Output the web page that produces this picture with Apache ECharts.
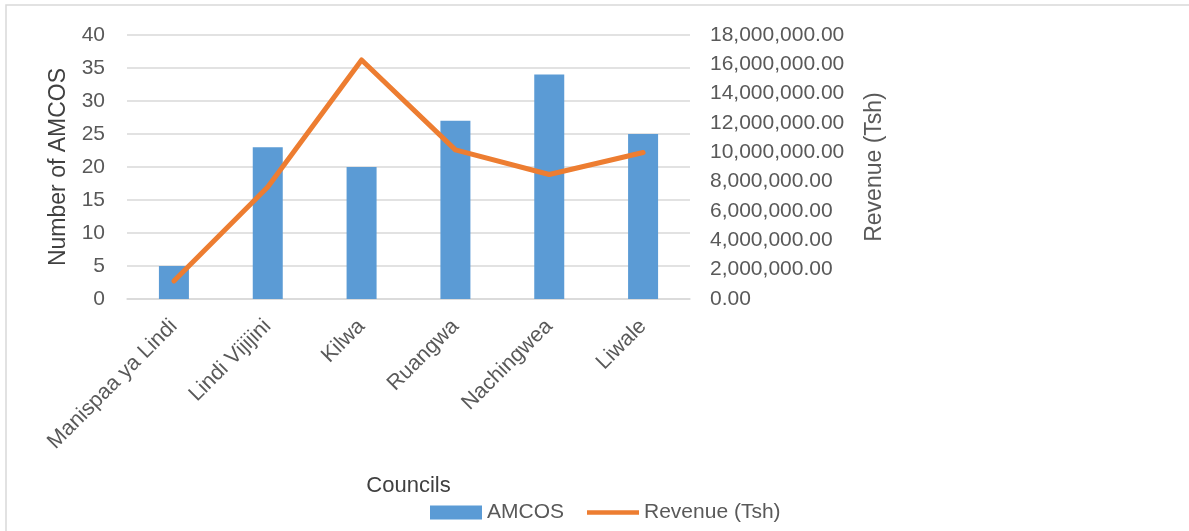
<!DOCTYPE html>
<html>
<head>
<meta charset="utf-8">
<script src="https://cdn.jsdelivr.net/npm/echarts@6/dist/echarts.min.js"></script>
<style>
  html, body { margin: 0; padding: 0; background: #fff; }
  #chart { width: 1189px; height: 531px; }
</style>
</head>
<body>
<div id="chart"></div>
<script>
// councils on the x axis
var councils = ['Manispaa ya Lindi', 'Lindi Vijijini', 'Kilwa', 'Ruangwa', 'Nachingwea', 'Liwale']
// number of AMCOS (left axis)
var amcos = [5, 23, 20, 27, 34, 25]
// revenue in Tsh (right axis)
var revenue = [1230000, 7630000, 16300000, 10170000, 8490000, 9990000]

var textColor = '#595959'
var fontFamily = 'Liberation Sans, Arial, sans-serif'

function money(v) {
  var s = Math.round(v).toString().replace(/\B(?=(\d{3})+(?!\d))/g, ',')
  return s + '.00'
}

var chart = echarts.init(document.getElementById('chart'))

var option = {
  backgroundColor: '#fff',
  animation: false,
  textStyle: { fontFamily: fontFamily, color: textColor },
  graphic: [{
    type: 'rect',
    shape: { x: 6, y: 5, width: 1300, height: 700 },
    style: { fill: 'none', stroke: '#D9D9D9', lineWidth: 1.5 },
    silent: true
  }],
  grid: { left: 127, right: 499, top: 35, bottom: 232 },
  legend: {
    left: 425,
    top: 497,
    itemGap: 23,
    itemWidth: 52,
    itemHeight: 14,
    textStyle: { fontSize: 21, color: textColor, fontFamily: fontFamily },
    data: [
      { name: 'AMCOS', icon: 'rect' },
      { name: 'Revenue (Tsh)', icon: 'path://M0,5 L58,5 L58,10 L0,10 Z', itemStyle: { color: '#ED7D31' } }
    ]
  },
  xAxis: {
    type: 'category',
    data: councils,
    name: 'Councils',
    nameLocation: 'middle',
    nameGap: 176,
    nameTextStyle: { fontSize: 22, color: '#404040', fontFamily: fontFamily },
    axisLine: { lineStyle: { color: '#D9D9D9', width: 1.5 } },
    axisTick: { show: false },
    axisLabel: { rotate: 45, fontSize: 21.5, color: textColor, margin: 24, interval: 0 }
  },
  yAxis: [{
    type: 'value',
    min: 0,
    max: 40,
    interval: 5,
    name: 'Number of AMCOS',
    nameLocation: 'middle',
    nameGap: 57,
    nameRotate: 90,
    nameTextStyle: { fontSize: 23, color: '#404040', fontFamily: fontFamily },
    axisLine: { show: false },
    axisTick: { show: false },
    axisLabel: { fontSize: 21, color: textColor, margin: 22 },
    splitLine: { lineStyle: { color: '#D9D9D9', width: 1.5 } }
  }, {
    type: 'value',
    min: 0,
    max: 18000000,
    interval: 2000000,
    name: 'Revenue (Tsh)',
    nameLocation: 'middle',
    nameGap: 173,
    nameRotate: 90,
    nameTextStyle: { fontSize: 23, color: textColor, fontFamily: fontFamily },
    axisLine: { show: false },
    axisTick: { show: false },
    axisLabel: { fontSize: 21, color: textColor, margin: 20, formatter: money },
    splitLine: { show: false }
  }],
  series: [{
    name: 'AMCOS',
    type: 'bar',
    yAxisIndex: 0,
    data: amcos,
    barWidth: 30,
    itemStyle: { color: '#5B9BD5' }
  }, {
    name: 'Revenue (Tsh)',
    type: 'line',
    yAxisIndex: 1,
    data: revenue,
    symbol: 'none',
    lineStyle: { color: '#ED7D31', width: 5, cap: 'round', join: 'round' },
    itemStyle: { color: '#ED7D31' }
  }]
}

chart.setOption(option)
</script>
</body>
</html>
